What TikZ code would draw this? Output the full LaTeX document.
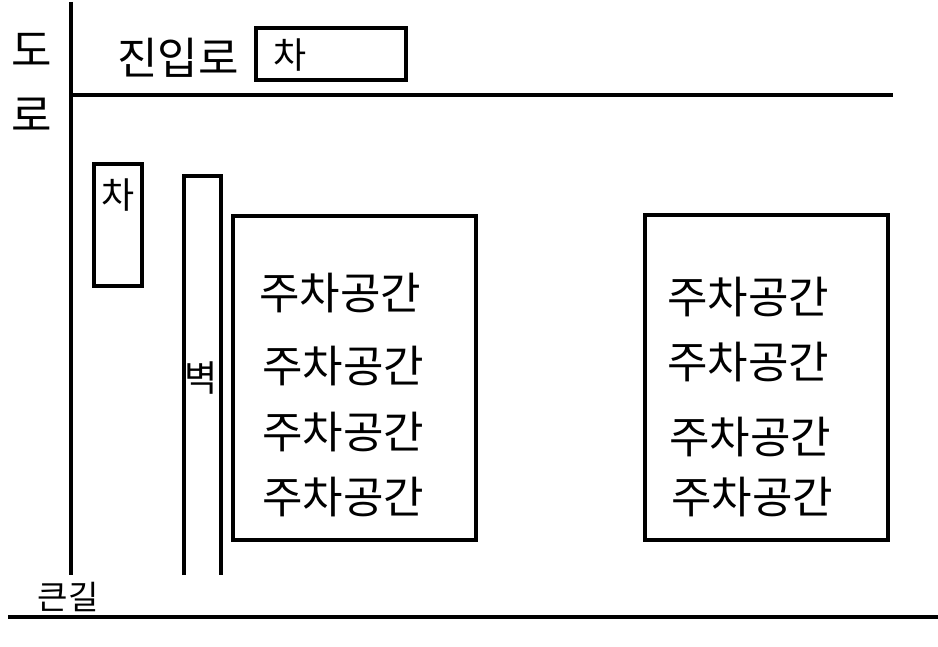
\documentclass[tikz,border=0pt]{standalone}
\usepackage{fontspec}
\setmainfont{Noto Sans CJK KR}
\begin{document}
\begin{tikzpicture}[x=1pt,y=-1pt,line width=4pt,
  lbl/.style={font=\fontsize{44}{48}\selectfont,inner sep=0pt},
  sml/.style={font=\fontsize{36}{40}\selectfont,inner sep=0pt},
  blk/.style={draw,line width=4pt}]
\useasboundingbox (0,0) rectangle (938,647);
\draw (71,2) -- (71,575);
\draw (71,95) -- (893,95);
\draw (8,617) -- (938,617);
\node[lbl] (do) at (32,50) {도};
\node[lbl] (ro) at (32,115) {로};
\node[lbl] (jin) at (178,58) {진입로};
\draw[blk] (256,28) rectangle (406,80);
\node[sml] (c1) at (290,55) {차};
\draw[blk] (94,164) rectangle (142,286);
\node[sml] (c2) at (118,195) {차};
\draw (184,575) -- (184,176) -- (221,176) -- (221,575);
\node[sml] (wall) at (201,378) {벽};
\draw[blk] (233,216) rectangle (476,540);
\draw[blk] (645,215) rectangle (888,540);
\node[lbl] (a1) at (340,293) {주차공간};
\node[lbl] (a2) at (343,366) {주차공간};
\node[lbl] (a3) at (343,432) {주차공간};
\node[lbl] (a4) at (343,497) {주차공간};
\node[lbl] (b1) at (748,297) {주차공간};
\node[lbl] (b2) at (748,362) {주차공간};
\node[lbl] (b3) at (750,437) {주차공간};
\node[lbl] (b4) at (752,497) {주차공간};
\node[sml,font=\fontsize{33}{36}\selectfont] (kg) at (68,597) {큰길};
\end{tikzpicture}
\end{document}
